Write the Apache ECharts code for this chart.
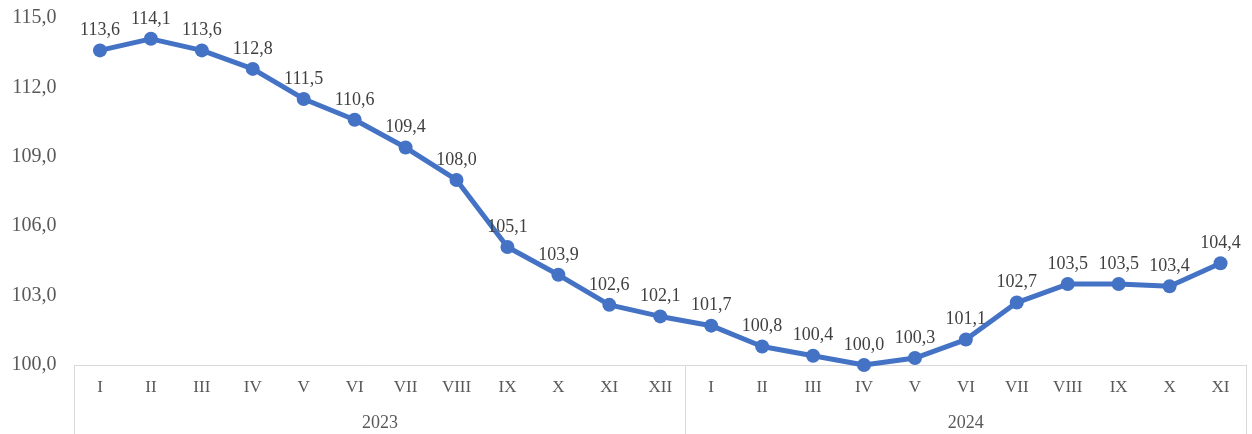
<!DOCTYPE html>
<html><head><meta charset="utf-8">
<script src="https://cdn.jsdelivr.net/npm/echarts@6/dist/echarts.min.js"></script>
<style>html,body{margin:0;padding:0;background:#fff}#c{width:1252px;height:434px}</style>
</head><body><div id="c"></div>
<script>
const months = ['I','II','III','IV','V','VI','VII','VIII','IX','X','XI','XII','I','II','III','IV','V','VI','VII','VIII','IX','X','XI'];
const values = [113.6,114.1,113.6,112.8,111.5,110.6,109.4,108.0,105.1,103.9,102.6,102.1,101.7,100.8,100.4,100.0,100.3,101.1,102.7,103.5,103.5,103.4,104.4];
const years = ['2023','2024'];
const yearCenters = [5.5, 17];
const yearBounds = [-0.5, 11.5, 22.5];
const yTicks = [100,103,106,109,112,115];

const fmt = v => v.toFixed(1).replace('.', ',');
const font = '"Liberation Serif","Times New Roman",serif';
const chart = echarts.init(document.getElementById('c'));
chart.setOption({
  animation:false,
  textStyle:{fontFamily:font},
  grid:{left:74.5,right:6,top:18,bottom:69},
  xAxis:[{
    type:'category', data:months, boundaryGap:true,
    axisLine:{show:true,lineStyle:{color:'#d9d9d9',width:1}},
    axisTick:{show:false},
    axisLabel:{color:'#595959',fontSize:17,fontFamily:font,margin:14,interval:0}
  },{
    type:'value', min:-0.5, max:22.5, position:'bottom',
    axisLine:{show:false},
    splitLine:{show:false},
    axisTick:{show:true,length:69,customValues:yearBounds,lineStyle:{color:'#d9d9d9',width:1}},
    axisLabel:{show:true,customValues:yearCenters,color:'#595959',fontSize:18,fontFamily:font,margin:49,
      formatter:v=>{const i=yearCenters.indexOf(v);return i>=0?years[i]:'';}}
  }],
  yAxis:{
    type:'value', min:yTicks[0], max:yTicks[yTicks.length-1], interval:3,
    axisLine:{show:false}, axisTick:{show:false}, splitLine:{show:false},
    axisLabel:{color:'#595959',fontSize:20,fontFamily:font,margin:18,formatter:fmt}
  },
  series:[{
    type:'line', data:values, xAxisIndex:0,
    lineStyle:{color:'#4472C4',width:5},
    itemStyle:{color:'#4472C4'},
    symbol:'circle', symbolSize:14,
    label:{show:true,position:'top',distance:4,color:'#404040',fontSize:18,fontFamily:font,formatter:p=>fmt(p.value)}
  }]
});
</script></body></html>
